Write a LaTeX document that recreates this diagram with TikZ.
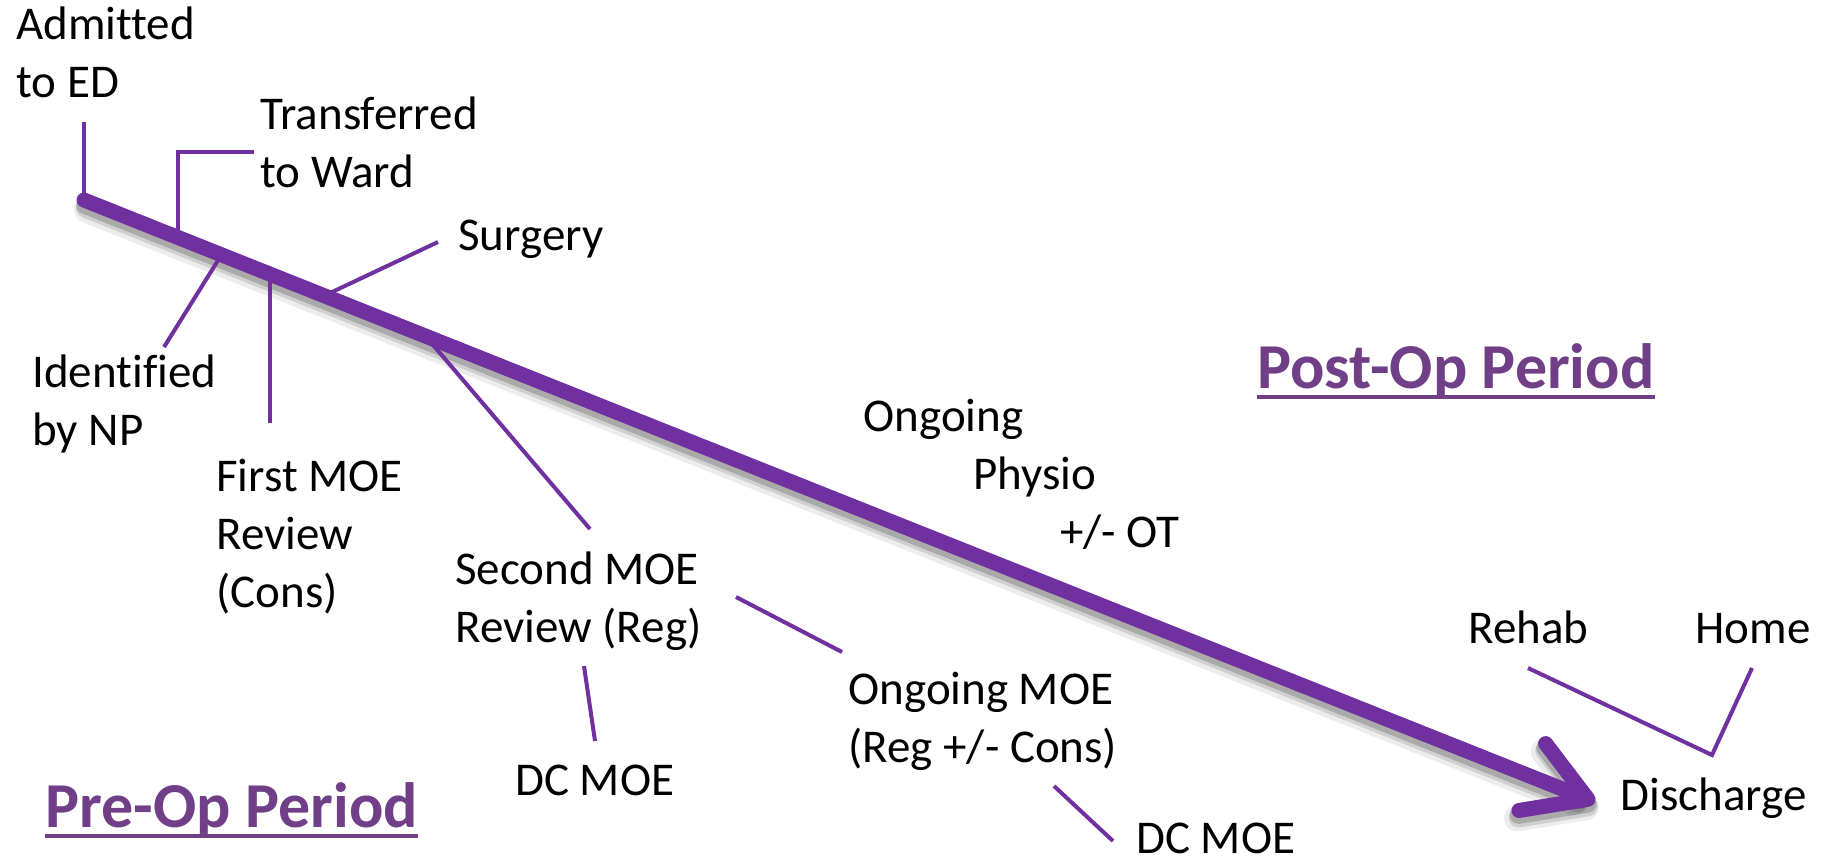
\documentclass[tikz,border=0pt]{standalone}
\usepackage{fontspec}
\setmainfont{Carlito}[Ligatures=NoCommon]
\usepackage{xcolor}
\usetikzlibrary{arrows.meta}
\usetikzlibrary{calc}
\definecolor{tlpurple}{HTML}{7030A0}
\definecolor{hdpurple}{HTML}{703F88}
\tikzset{
    lbl/.style={anchor=base west,inner sep=0pt,align=left,
        font=\fontsize{23.5}{29}\selectfont},
    head/.style={anchor=base west,inner sep=0pt,text=hdpurple,
        font=\fontsize{32}{38}\selectfont\bfseries},
    headline/.style={hdpurple,line width=2pt},
    tick/.style={tlpurple,line width=2pt},
    timeline/.style={tlpurple,line width=7.5pt,line cap=round,
        -{Straight Barb[round,length=30pt,width=36pt]}},
    shadowline/.style={black,line width=9pt,line cap=round,
        -{Straight Barb[round,length=30pt,width=36pt]}}
}

\begin{document}
\begin{tikzpicture}[x=0.5pt,y=-0.5pt]
    \useasboundingbox (0,0) rectangle (1822,859);

    % the time line
    \coordinate (start) at (84,200);
    \coordinate (stop) at (1595,802);
    \draw[shadowline,opacity=.07,line width=13pt] ([shift={(3,10)}]start) -- ([shift={(3,10)}]stop);
    \draw[shadowline,opacity=.12,line width=10pt] ([shift={(2,8)}]start) -- ([shift={(2,8)}]stop);
    \draw[shadowline,opacity=.18] ([shift={(1,5)}]start) -- ([shift={(1,5)}]stop);
    \draw[timeline] (start) -- (stop);

    % points on the time line
    \coordinate (tTr) at ($(start)!0.062!(stop)$);
    \coordinate (tId) at ($(start)!0.091!(stop)$);
    \coordinate (tFi) at ($(start)!0.123!(stop)$);
    \coordinate (tSu) at ($(start)!0.159!(stop)$);
    \coordinate (tSe) at ($(start)!0.226!(stop)$);

    % labels (base = last line)
    \node[lbl] (adm) at (16,97) {Admitted\\to ED};
    \node[lbl] (trans) at (260,187) {Transferred\\to Ward};
    \node[lbl] (surg) at (458,250) {Surgery};
    \node[lbl] (ident) at (32,445) {Identified\\by NP};
    \node[lbl] (first) at (216,607) {First MOE\\Review\\(Cons)};
    \node[lbl] (second) at (455,642) {Second MOE\\Review (Reg)};
    \node[lbl] (dcA) at (515,795) {DC MOE};
    \node[lbl] (ongoing) at (848,762) {Ongoing MOE\\(Reg +/- Cons)};
    \node[lbl] (dcB) at (1136,853) {DC MOE};
    \node[lbl] (physio) at (863,547)
        {Ongoing\\\hspace*{55pt}Physio\\\hspace*{98.5pt}+/- OT};
    \node[lbl] (rehab) at (1468,643) {Rehab};
    \node[lbl] (home) at (1695,643) {Home};
    \node[lbl] (disch) at (1620,810) {Discharge};

    \node[head] (post) at (1257,388) {Post-Op Period};
    \node[head] (pre) at (45,827) {Pre-Op Period};
    \draw[headline] ([yshift=-4.5pt]post.base west) -- ([yshift=-4.5pt]post.base east);
    \draw[headline] ([yshift=-4.5pt]pre.base west) -- ([yshift=-4.5pt]pre.base east);

    % ends of the connectors
    \coordinate (admEnd) at (84,122);
    \coordinate (trEnd) at (254,152);
    \coordinate (idEnd) at (164,347);
    \coordinate (fiEnd) at (270,423);
    \coordinate (suEnd) at (438,242);
    \coordinate (seEnd) at (590,529);
    \coordinate (seOut) at (736,597);
    \coordinate (onIn) at (842,652);
    \coordinate (dcAtop) at (584,666);
    \coordinate (dcAbot) at (595,741);
    \coordinate (onOut) at (1054,786);
    \coordinate (dcBin) at (1113,841);
    \coordinate (rehabEnd) at (1528,668);
    \coordinate (dischPt) at (1712,755);
    \coordinate (homeEnd) at (1752,668);

    % connectors
    \draw[tick] (admEnd) -- (start);
    \draw[tick] (trEnd) -- (trEnd -| tTr) -- (tTr);
    \draw[tick] (idEnd) -- (tId);
    \draw[tick] (fiEnd) -- (fiEnd |- tFi);
    \draw[tick] (suEnd) -- (tSu);
    \draw[tick] (seEnd) -- (tSe);
    \draw[tick] (seOut) -- (onIn);
    \draw[tick] (dcAtop) -- (dcAbot);
    \draw[tick] (onOut) -- (dcBin);
    \draw[tick] (rehabEnd) -- (dischPt) -- (homeEnd);
\end{tikzpicture}
\end{document}
